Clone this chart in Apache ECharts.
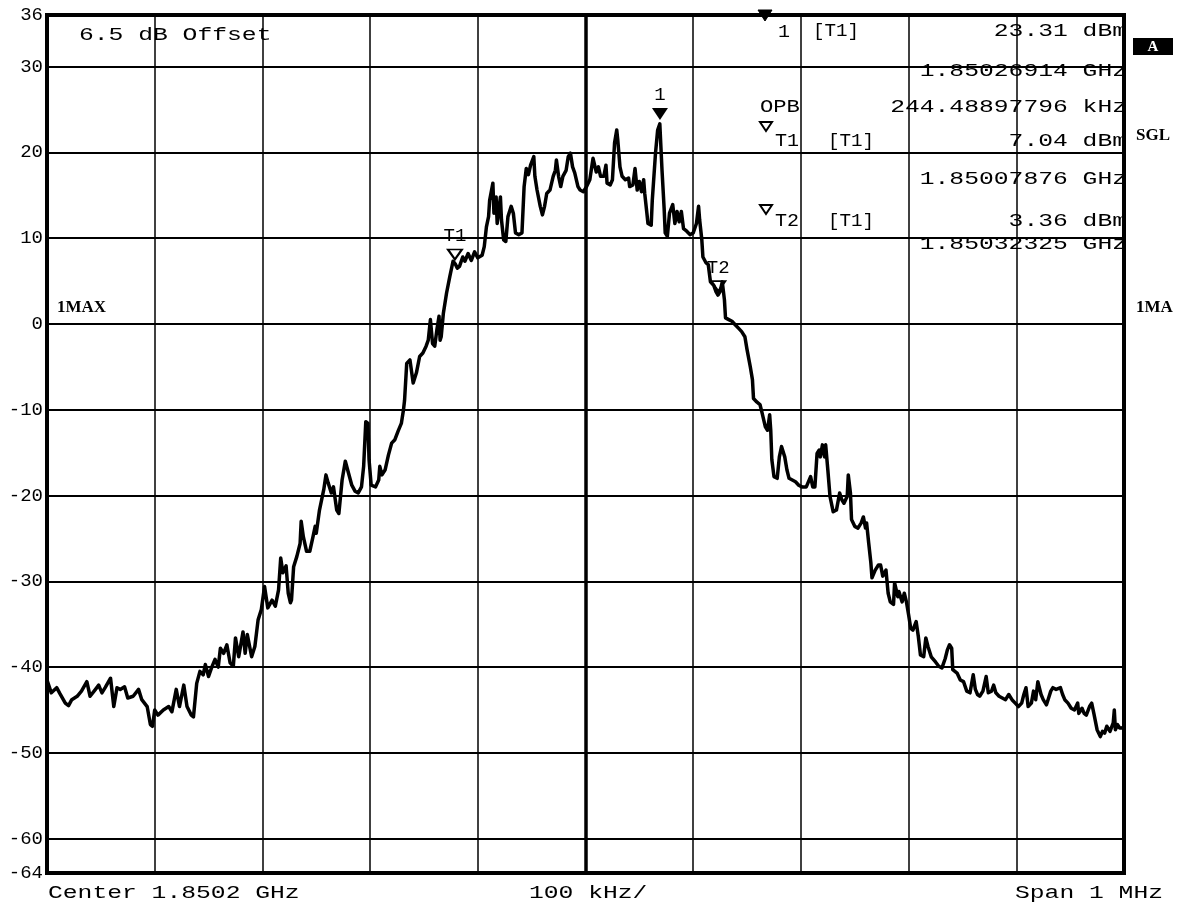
<!DOCTYPE html>
<html><head><meta charset="utf-8">
<script src="https://cdn.jsdelivr.net/npm/echarts@6/dist/echarts.min.js"></script>
<style>html,body{margin:0;padding:0;background:#fff}#c{width:1181px;height:910px}</style>
</head><body><div id="c"></div>
<script>
// Frequency offset from centre (kHz) and level (dBm)
const freqKHz = [
-500,-499,-496,-491,-488,-483,-480,-477,-472,-468,-463,-460,-455,-452,-449,-446,-441,-438,-435,-432,-428,-425,-420,-415,-412,-407,-404,-402,-400,-397,-392,-387,-384,-380,-377,-373,-370,-366,-364,-361,-358,-355,-353,-350,-347,-344,-341,
-339,-336,-333,-330,-327,-325,-322,-318,-316,-314,-310,-307,-304,-301,-298,-295,-291,-288,-285,-283,-281,-278,-276,-274,-273,-271,-268,-265,-264,-262,-259,-256,-253,-251,-250,-247,-243,-241,-239,-236,-234,-231,-229,-226,-223,-220,-217,-214,-211,-208,-206,-204,-202,-201,-199,-195,-192,-191,-189,-186,-183,-180,-177,-174,-171,-169,-168,
-166,-163,-160,-157,-154,-151,-148,-146,-144,-142,-140,-138,-136,-135,-134,-132,-129,-126,-123,-121,-119,-117,-114,-112,-109,-106,-103,-100,-96,-94,-92,-90,-89,-86,-85,-83,-82,-79,-78,-76,-74,-72,-69,-67,-65,-62,-59,-57,-55,-53,-51,-48,-47,-45,-42,-40,-38,-36,-33,-30,-28,-27,-25,-23,-21,-18,-16,-14,-12,-10,-7,
-5,-2,1,4,7,10,12,14,17,19,20,23,25,27,29,30,32,34,37,40,41,44,46,48,50,52,54,55,57,58,61,62,65,67,69,71,73,74,76,78,81,83,85,87,89,91,94,97,100,103,105,106,108,109,112,114,116,119,121,123,125,127,129,130,133,136,139,142,145,148,
150,153,155,156,159,162,164,167,169,171,172,173,175,178,180,182,185,187,189,192,195,198,201,205,209,211,213,215,217,218,220,222,223,225,227,230,233,236,238,240,243,244,246,247,250,253,256,258,260,261,263,265,266,269,272,274,276,
279,281,283,286,287,290,291,294,296,298,300,302,304,307,309,311,314,316,318,321,325,328,331,334,336,338,340,341,345,348,351,354,357,360,362,364,366,369,372,374,377,379,381,384,387,390,393,396,399,402,405,407,409,411,414,416,418,420,423,425,428,430,432,434,437,441,443,445,448,451,454,457,458,461,463,465,468,470,472,475,478,480,482,484,487,490,491,492,494,496,498,500
];
const levelDbm = [
-41.5,-41.7,-43.0,-42.4,-43.1,-44.2,-44.5,-43.8,-43.4,-42.8,-41.7,-43.4,-42.6,-42.1,-43.0,-42.4,-41.3,-44.6,-42.4,-42.6,-42.3,-43.6,-43.4,-42.6,-43.8,-44.6,-46.7,-46.9,-45.0,-45.6,-45.0,-44.6,-45.2,-42.6,-44.6,-42.1,-44.6,-45.6,-45.8,-41.9,-40.5,-40.9,-39.7,-41.1,-40.0,-39.1,-40.0,
-37.8,-38.4,-37.4,-39.5,-39.9,-36.6,-38.8,-35.9,-38.4,-36.2,-38.8,-37.6,-34.5,-33.3,-30.6,-33.1,-32.2,-32.9,-31.0,-27.3,-29.0,-28.2,-31.4,-32.5,-32.2,-28.3,-27.1,-25.6,-23.0,-24.8,-26.5,-26.5,-24.8,-23.6,-24.4,-21.7,-19.3,-17.6,-18.5,-19.7,-19.0,-21.7,-22.1,-18.2,-16.0,-17.4,-18.8,-19.5,-19.7,-19.0,-16.6,-11.4,-11.6,-15.8,-18.8,-19.0,-18.2,-16.6,-17.6,-17.0,-15.3,-13.9,-13.5,-12.5,-11.6,-10.0,-8.9,
-4.6,-4.2,-6.9,-5.7,-3.8,-3.4,-2.6,-1.9,0.5,-2.3,-2.6,-0.7,0.9,-1.9,-1.5,1.2,3.6,5.5,7.3,7.0,6.5,6.7,7.8,7.3,8.2,7.4,8.4,7.7,8.0,9.0,11.3,12.5,14.4,16.4,12.9,14.8,11.7,14.8,12.1,9.8,9.6,12.5,13.7,12.9,10.6,10.4,10.6,16.0,18.1,17.4,18.5,19.5,17.2,15.6,13.7,12.7,13.7,15.2,15.6,17.2,17.9,19.1,17.2,16.0,17.2,17.9,19.5,19.9,18.3,17.6,16.0,
15.6,15.4,16.0,16.8,19.3,17.7,18.3,17.2,17.2,18.5,16.4,16.2,16.8,21.1,22.6,21.4,18.3,17.2,16.8,17.0,16.0,16.2,18.1,15.6,16.6,15.4,16.8,15.2,12.9,11.7,11.5,14.4,19.9,22.6,23.31,18.0,13.5,10.6,10.2,12.9,13.9,11.7,13.1,11.9,13.1,11.1,10.8,10.4,10.6,11.7,13.7,12.1,9.8,7.8,7.1,6.9,4.9,4.5,3.8,3.36,3.8,4.9,2.8,0.7,0.5,0.3,-0.1,-0.5,-0.9,-1.5,
-3.0,-5.0,-6.5,-8.7,-9.1,-9.4,-10.4,-12.0,-12.4,-10.6,-12.4,-15.8,-17.8,-18.0,-15.5,-14.3,-15.5,-17.0,-18.0,-18.2,-18.4,-18.8,-19.0,-19.0,-17.8,-19.0,-19.0,-15.1,-14.7,-15.5,-14.1,-15.5,-14.1,-17.0,-20.1,-21.9,-21.7,-19.7,-20.5,-20.9,-20.1,-17.6,-19.7,-22.8,-23.6,-23.8,-23.2,-22.5,-23.8,-23.2,-25.6,-27.9,-29.6,-28.7,-28.1,-28.1,-29.4,
-28.7,-31.4,-32.4,-32.7,-30.2,-31.8,-31.2,-32.4,-31.4,-32.4,-33.9,-35.5,-35.7,-34.7,-36.4,-38.6,-38.8,-36.6,-37.6,-38.8,-39.4,-39.9,-40.1,-39.0,-38.0,-37.4,-37.8,-40.3,-40.7,-41.5,-41.7,-42.8,-43.0,-40.9,-42.6,-43.2,-43.4,-42.8,-41.1,-43.0,-42.8,-42.1,-43.0,-43.4,-43.6,-43.8,-43.2,-43.8,-44.2,-44.6,-44.2,-43.2,-42.4,-44.6,-44.2,-42.8,-43.8,-41.7,-43.2,-43.8,-44.4,-43.6,-42.8,-42.4,-42.6,-42.4,-43.2,-43.8,-44.2,-44.8,-45.0,-44.2,-45.4,-44.8,-45.4,-45.6,-44.6,-44.2,-45.4,-47.3,-48.1,-47.5,-47.7,-46.9,-47.5,-46.5,-45.0,-47.3,-46.7,-47.1,-47.1,-47.0
];
const yTickValues = [-64,-60,-50,-40,-30,-20,-10,0,10,20,30,36];
const markerNames = ['1','T1','T2'];
const markerFreqKHz = [69.14,-121.24,123.25];
const markerLevel = [23.31,7.04,3.36];
const markerFilled = [true,false,false];

const FONT = '"Liberation Mono", "Courier New", monospace';
const BFONT = '"Liberation Serif", serif';
function txt(s, x, y, align, fs, charW, extra) {
  return Object.assign({type:'text', x:x, y:y, scaleX: charW/(0.6*fs), silent:true, z:100,
    style:{text:s, font: fs+'px '+FONT, fill:'#000', textAlign:align, textVerticalAlign:'middle', align:align, verticalAlign:'middle'}}, extra||{});
}
function btxt(s, x, y, fs, color) {
  return {type:'text', x:x, y:y, silent:true, z:101,
    style:{text:s, font:'bold '+fs+'px '+BFONT, fill:color||'#000', textAlign:'left', textVerticalAlign:'middle', align:'left', verticalAlign:'middle'}};
}
function tri(x, y, w, h, filled) {
  return {type:'polygon', silent:true, z:100, shape:{points:[[x,y],[x+w,y],[x+w/2,y+h]]},
    style:{fill: filled ? '#000' : '#fff', stroke:'#000', lineWidth: filled ? 1 : 2}};
}
const R = 1127, FS = 19, CW = 14.8;
const graphics = [
  txt('6.5 dB Offset', 79, 35, 'left', FS, CW),
  tri(758, 10, 14, 11, true), txt('1', 778, 32, 'left', FS, 12), txt('[T1]', 813, 31, 'left', FS, 11.5), txt('23.31 dBm', R, 31, 'right', FS, CW),
  txt('1.85026914 GHz', R, 71, 'right', FS, CW),
  txt('OPB', 760, 107, 'left', FS, 13.3), txt('244.48897796 kHz', R, 107, 'right', FS, CW),
  tri(760, 122, 12, 9, false), txt('T1', 775, 141, 'left', FS, 12), txt('[T1]', 828, 141, 'left', FS, 11.5), txt('7.04 dBm', R, 141, 'right', FS, CW),
  txt('1.85007876 GHz', R, 179, 'right', FS, CW),
  tri(760, 205, 12, 9, false), txt('T2', 775, 221, 'left', FS, 12), txt('[T1]', 828, 221, 'left', FS, 11.5), txt('3.36 dBm', R, 221, 'right', FS, CW),
  txt('1.85032325 GHz', R, 244, 'right', FS, CW),
  {type:'rect', silent:true, z:100, shape:{x:1133, y:38, width:40, height:17}, style:{fill:'#000'}},
  {type:'text', x:1153, y:47, silent:true, z:101, style:{text:'A', font:'bold 15px '+BFONT, fill:'#fff', textAlign:'center', textVerticalAlign:'middle', align:'center', verticalAlign:'middle'}},
  btxt('SGL', 1136, 136, 17),
  btxt('1MA', 1136, 308, 17),
  btxt('1MAX', 57, 308, 17),
  txt('Center 1.8502 GHz', 48, 893, 'left', FS, CW),
  txt('100 kHz/', 529, 893, 'left', FS, CW),
  txt('Span 1 MHz', 1163, 893, 'right', FS, CW)
];

const data = freqKHz.map((f, i) => [f, levelDbm[i]]);
const markPts = markerNames.map((n, i) => ({
  name: n, coord: [markerFreqKHz[i], markerLevel[i]],
  symbol: 'triangle', symbolRotate: 180, symbolSize: markerFilled[i] ? [16, 12] : [14, 10],
  symbolOffset: [0, markerFilled[i] ? -10 : -9],
  itemStyle: {color: markerFilled[i] ? '#000' : '#fff', borderColor: '#000', borderWidth: markerFilled[i] ? 0 : 2},
  label: {show: true, formatter: n, position: 'top', distance: 3, color: '#000', fontFamily: FONT, fontSize: 19}
}));

const chart = echarts.init(document.getElementById('c'), null, {renderer: 'canvas'});
chart.setOption({
  animation: false,
  backgroundColor: '#fff',
  grid: {left: 47, right: 57, top: 15, bottom: 37, show: true, borderColor: '#000', borderWidth: 4, backgroundColor: 'transparent'},
  xAxis: {type: 'value', min: -500, max: 500, interval: 100,
    axisLine: {show: false}, axisTick: {show: false}, axisLabel: {show: false},
    splitLine: {show: true, lineStyle: {color: '#000', width: 1.5}}},
  yAxis: {type: 'value', min: -64, max: 36,
    axisLine: {show: false},
    axisTick: {show: false, customValues: yTickValues},
    axisLabel: {show: true, customValues: yTickValues, color: '#000', fontFamily: FONT, fontSize: 19, margin: 4},
    splitLine: {show: true, lineStyle: {color: '#000', width: 2}}},
  graphic: {elements: graphics},
  series: [{
    type: 'line', data: data, showSymbol: false, symbol: 'none',
    lineStyle: {color: '#000', width: 3.5, join: 'round'},
    z: 5,
    markLine: {silent: true, symbol: 'none', label: {show: false},
      lineStyle: {color: '#000', width: 3.5, type: 'solid'}, data: [{xAxis: 0}]},
    markPoint: {silent: true, data: markPts}
  }]
});
</script></body></html>
